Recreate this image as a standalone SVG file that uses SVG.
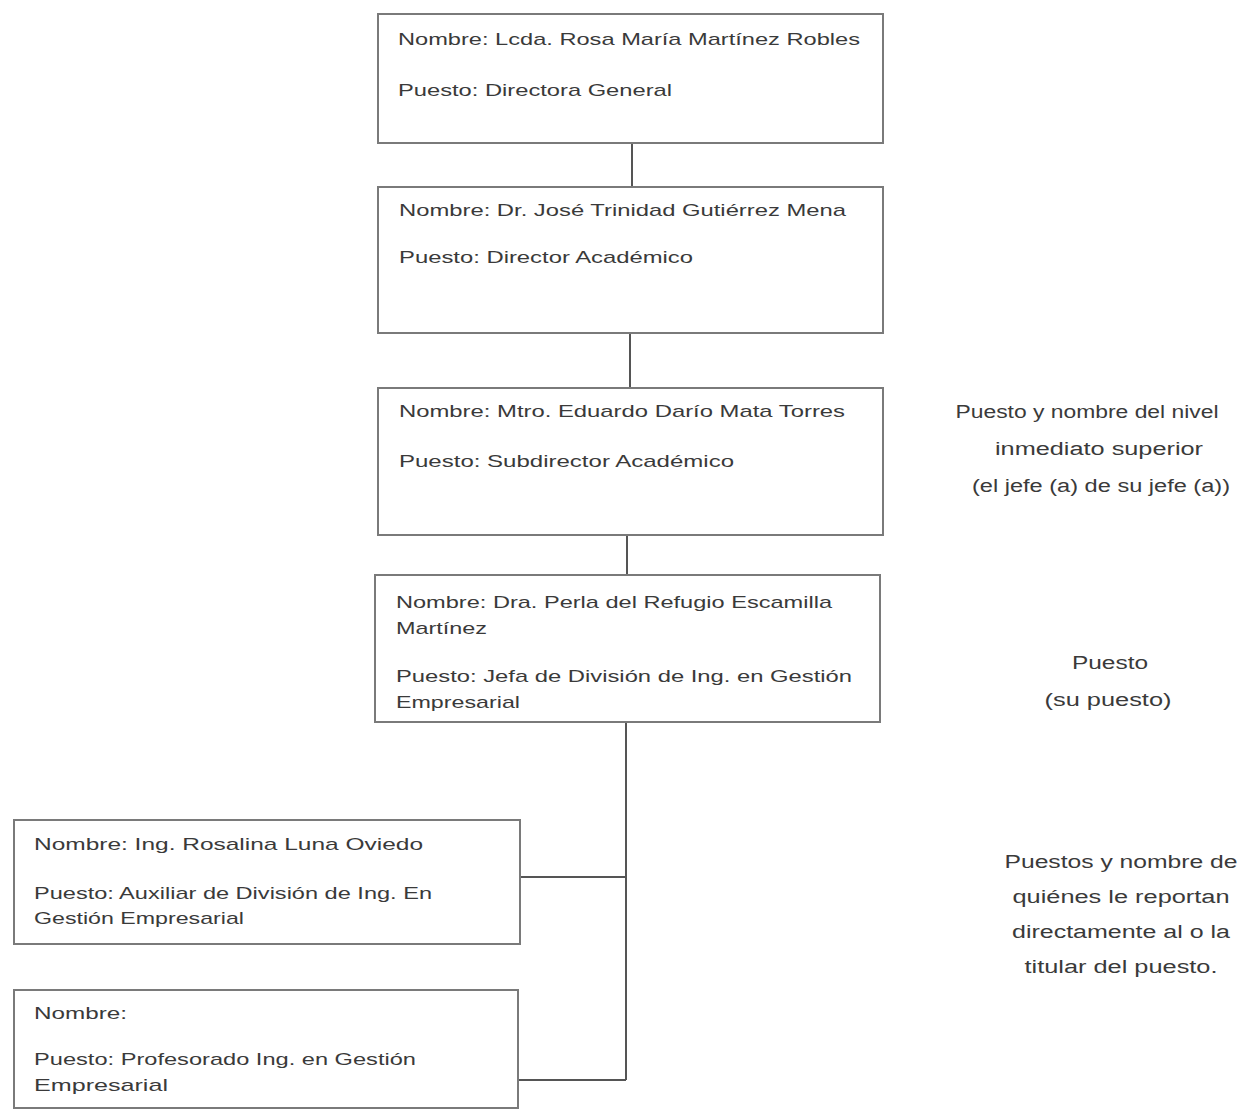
<svg xmlns="http://www.w3.org/2000/svg" width="1257" height="1110" viewBox="0 0 1257 1110">
  <style>
    .box { fill: #ffffff; stroke: #7a7a7a; stroke-width: 2; }
    .t { font-family: "Liberation Sans", Arial, sans-serif; font-size: 17px; fill: #3a3a3a; }
    .note { font-family: "Liberation Sans", Arial, sans-serif; font-size: 18px; fill: #3a3a3a; text-anchor: middle; }
    .line { stroke: #555555; stroke-width: 2; fill: none; }
  </style>
  <rect width="1257" height="1110" fill="#ffffff"/>

  <!-- connectors -->
  <g id="connectors">
    <line class="line" x1="632" y1="143" x2="632" y2="187"/>
    <line class="line" x1="630" y1="333" x2="630" y2="388"/>
    <line class="line" x1="627" y1="535" x2="627" y2="575"/>
    <line class="line" x1="626" y1="722" x2="626" y2="1080"/>
    <line class="line" x1="520" y1="877" x2="626" y2="877"/>
    <line class="line" x1="518" y1="1080" x2="626" y2="1080"/>
  </g>

  <g id="node-directora">
    <rect class="box" x="378" y="14" width="505" height="129"/>
    <text class="t" x="398" y="45" textLength="462" lengthAdjust="spacingAndGlyphs">Nombre: Lcda. Rosa María Martínez Robles</text>
    <text class="t" x="398" y="96" textLength="274" lengthAdjust="spacingAndGlyphs">Puesto: Directora General</text>
  </g>

  <g id="node-director-academico">
    <rect class="box" x="378" y="187" width="505" height="146"/>
    <text class="t" x="399" y="216" textLength="447" lengthAdjust="spacingAndGlyphs">Nombre: Dr. José Trinidad Gutiérrez Mena</text>
    <text class="t" x="399" y="263" textLength="294" lengthAdjust="spacingAndGlyphs">Puesto: Director Académico</text>
  </g>

  <g id="node-subdirector">
    <rect class="box" x="378" y="388" width="505" height="147"/>
    <text class="t" x="399" y="417" textLength="446" lengthAdjust="spacingAndGlyphs">Nombre: Mtro. Eduardo Darío Mata Torres</text>
    <text class="t" x="399" y="467" textLength="335" lengthAdjust="spacingAndGlyphs">Puesto: Subdirector Académico</text>
  </g>

  <g id="node-jefa-division">
    <rect class="box" x="375" y="575" width="505" height="147"/>
    <text class="t" x="396" y="608" textLength="436" lengthAdjust="spacingAndGlyphs">Nombre: Dra. Perla del Refugio Escamilla</text>
    <text class="t" x="396" y="634" textLength="91" lengthAdjust="spacingAndGlyphs">Martínez</text>
    <text class="t" x="396" y="682" textLength="456" lengthAdjust="spacingAndGlyphs">Puesto: Jefa de División de Ing. en Gestión</text>
    <text class="t" x="396" y="708" textLength="124" lengthAdjust="spacingAndGlyphs">Empresarial</text>
  </g>

  <g id="node-auxiliar">
    <rect class="box" x="14" y="820" width="506" height="124"/>
    <text class="t" x="34" y="850" textLength="389" lengthAdjust="spacingAndGlyphs">Nombre:  Ing. Rosalina Luna Oviedo</text>
    <text class="t" x="34" y="899" textLength="398" lengthAdjust="spacingAndGlyphs">Puesto: Auxiliar de División de Ing. En</text>
    <text class="t" x="34" y="924" textLength="210" lengthAdjust="spacingAndGlyphs">Gestión Empresarial</text>
  </g>

  <g id="node-profesorado">
    <rect class="box" x="14" y="990" width="504" height="118"/>
    <text class="t" x="34" y="1019" textLength="93" lengthAdjust="spacingAndGlyphs">Nombre:</text>
    <text class="t" x="34" y="1065" textLength="382" lengthAdjust="spacingAndGlyphs">Puesto: Profesorado Ing. en Gestión</text>
    <text class="t" x="34" y="1091" textLength="134" lengthAdjust="spacingAndGlyphs">Empresarial</text>
  </g>

  <!-- side notes -->
  <g id="note-superior">
    <text class="note" x="1087" y="418" textLength="263" lengthAdjust="spacingAndGlyphs">Puesto y nombre del nivel</text>
    <text class="note" x="1099" y="455" textLength="208" lengthAdjust="spacingAndGlyphs">inmediato superior</text>
    <text class="note" x="1101" y="492" textLength="258" lengthAdjust="spacingAndGlyphs">(el jefe (a) de su jefe (a))</text>
  </g>

  <g id="note-puesto">
    <text class="note" x="1110" y="669" textLength="76" lengthAdjust="spacingAndGlyphs">Puesto</text>
    <text class="note" x="1108" y="706" textLength="127" lengthAdjust="spacingAndGlyphs">(su puesto)</text>
  </g>

  <g id="note-reportan">
    <text class="note" x="1121" y="868" textLength="233" lengthAdjust="spacingAndGlyphs">Puestos y nombre de</text>
    <text class="note" x="1121" y="903" textLength="217" lengthAdjust="spacingAndGlyphs">quiénes le reportan</text>
    <text class="note" x="1121" y="938" textLength="218" lengthAdjust="spacingAndGlyphs">directamente al o la</text>
    <text class="note" x="1121" y="973" textLength="193" lengthAdjust="spacingAndGlyphs">titular del puesto.</text>
  </g>
</svg>
